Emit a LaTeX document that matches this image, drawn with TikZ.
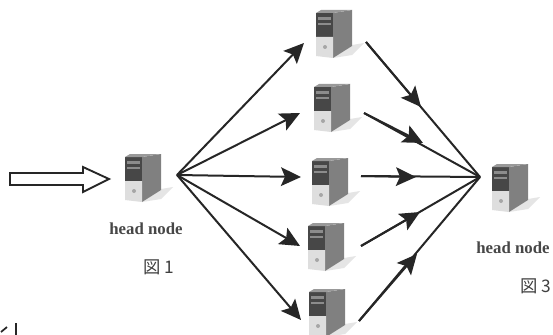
\documentclass[tikz,border=0pt]{standalone}
\usepackage{fontspec}
\setmainfont{Liberation Serif}
\newfontfamily\cjkfont{Noto Sans CJK JP}
\usetikzlibrary{arrows.meta}
\tikzset{
  x=0.75pt,y=-0.75pt,
  serverbox/.style={minimum width=27pt,minimum height=37pt,inner sep=0pt},
  conn/.style={line width=1.5pt,draw=black!85},
  tip/.style={-{Stealth[length=15pt,width=14pt,inset=3pt]},conn},
  hollow/.style={line width=1.4pt,draw=black!85,fill=white},
  lbl/.style={font=\fontsize{12.6}{14}\selectfont\bfseries,text=black!72,inner sep=0pt},
  fig/.style={font=\cjkfont\fontsize{13}{15}\selectfont,text=black!75,inner sep=0pt},
}
\newcommand{\srv}[3]{% name, x, y (top-left of tower)
  \node[serverbox,anchor=north west] (#1) at (#2,#3) {};
  \begin{scope}[shift={(#2,#3)}]
    \fill[black!10] (17,49) -- (36,36) -- (48,34) -- (36,46) -- cycle;
    \fill[black!50] (17,4) -- (36,1) -- (36,37) -- (17,49) -- cycle;
    \fill[black!72] (0,4) -- (17,4) -- (17,28) -- (0,28) -- cycle;
    \fill[black!45] (2,8) -- (15,8) -- (15,11) -- (2,11) -- cycle;
    \fill[black!45] (2,14) -- (15,14) -- (15,16) -- (2,16) -- cycle;
    \fill[black!13] (0,28) -- (17,28) -- (17,49) -- (0,47) -- cycle;
    \fill[black!35] (9,38) circle (2);
    \fill[black!40] (0,4) -- (5,1) -- (36,1) -- (17,4) -- cycle;
  \end{scope}
}
\begin{document}
\begin{tikzpicture}
\useasboundingbox (0,0) rectangle (553,335);
\fill[white] (0,0) rectangle (553,335);
\srv{h}{125}{153}
\srv{s1}{316}{9}
\srv{s2}{314}{83}
\srv{s3}{312}{157}
\srv{s4}{308}{222}
\srv{s5}{309}{288}
\srv{t}{492}{163}
\coordinate (src) at (177,175);
\coordinate (hub) at (480,177);
\coordinate (i1) at (304,43);
\coordinate (i2) at (300,113);
\coordinate (i3) at (301,177);
\coordinate (i4) at (300,246);
\coordinate (i5) at (301,320);
\coordinate (o1) at (366,42);
\coordinate (o2) at (364,113);
\coordinate (o3) at (361,176);
\coordinate (o4) at (361,246);
\coordinate (o5) at (359,321);
\coordinate (m1) at (421,107);
\coordinate (m2) at (423,143);
\coordinate (m3) at (416,177);
\coordinate (m4) at (420,212);
\coordinate (m5) at (417,254);
\foreach \n in {1,...,5}{
  \draw[tip] (src) -- (i\n);
  \draw[conn] (o\n) -- (hub);
  \draw[tip] (o\n) -- (m\n);
}
\draw[hollow] (10,173) -- (83,173) -- (83,167) -- (109,179) -- (83,192) -- (83,185) -- (10,185) -- cycle;
\draw[line width=1.3pt,draw=black!85] (1,332) -- (7,327);
\draw[line width=1.3pt,draw=black!85] (16,323) -- (16,335);
\node[lbl] (l1) at (146,229) {head node};
\node[fig] (f1) at (159,267) {図 1};
\node[lbl] (l2) at (513,248) {head node};
\node[fig] (f2) at (536,286) {図 3};
\end{tikzpicture}
\end{document}
